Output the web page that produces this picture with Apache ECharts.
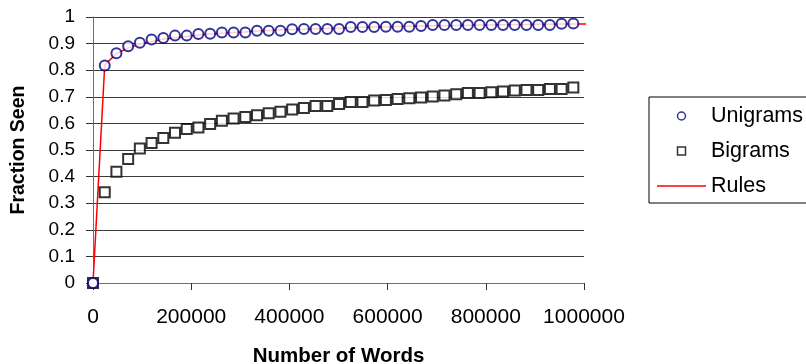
<!DOCTYPE html>
<html>
<head>
<meta charset="utf-8">
<script src="https://cdn.jsdelivr.net/npm/echarts@6/dist/echarts.min.js"></script>
<style>
  html, body { margin: 0; padding: 0; background: #fff; }
  #chart { width: 806px; height: 364px; }
</style>
</head>
<body>
<div id="chart"></div>
<script>
const wordCounts = [0, 23900, 47700, 71600, 95400, 119300, 143200, 167000, 190900, 214700,
  238600, 262500, 286300, 310200, 334000, 357900, 381800, 405600, 429500, 453300,
  477200, 501100, 524900, 548800, 572600, 596500, 620400, 644200, 668100, 691900,
  715800, 739700, 763500, 787400, 811200, 835100, 859000, 882800, 906700, 930500,
  954400, 978300];

const unigrams = [0, 0.818, 0.864, 0.890, 0.903, 0.915, 0.921, 0.930, 0.930, 0.936,
  0.937, 0.942, 0.942, 0.942, 0.948, 0.948, 0.948, 0.954, 0.955, 0.955,
  0.955, 0.955, 0.962, 0.962, 0.962, 0.963, 0.963, 0.963, 0.966, 0.970,
  0.970, 0.970, 0.970, 0.970, 0.970, 0.970, 0.970, 0.970, 0.970, 0.970,
  0.975, 0.976];

const bigrams = [0, 0.341, 0.418, 0.466, 0.506, 0.526, 0.545, 0.565, 0.579, 0.585,
  0.598, 0.610, 0.618, 0.624, 0.631, 0.638, 0.644, 0.652, 0.658, 0.665,
  0.665, 0.673, 0.680, 0.680, 0.686, 0.688, 0.692, 0.695, 0.697, 0.701,
  0.705, 0.710, 0.714, 0.714, 0.717, 0.720, 0.724, 0.726, 0.726, 0.729,
  0.729, 0.735];

// the fitted rule curve runs a little past the last sample
const rulesX = [0, 23900, 47700, 71600, 95400, 119300, 143200, 167000, 190900, 214700,
  238600, 262500, 286300, 310200, 334000, 357900, 381800, 405600, 429500, 453300,
  477200, 501100, 524900, 548800, 572600, 596500, 620400, 644200, 668100, 691900,
  715800, 739700, 763500, 787400, 811200, 835100, 859000, 882800, 906700, 930500,
  954400, 978300, 1005000];
const rulesY = [0, 0.820, 0.862, 0.884, 0.898, 0.908, 0.916, 0.922, 0.927, 0.932,
  0.936, 0.939, 0.942, 0.944, 0.947, 0.949, 0.951, 0.953, 0.954, 0.956,
  0.957, 0.958, 0.960, 0.961, 0.962, 0.963, 0.964, 0.965, 0.966, 0.967,
  0.967, 0.968, 0.969, 0.970, 0.970, 0.971, 0.972, 0.972, 0.973, 0.973,
  0.974, 0.974, 0.974];

const xTicks = { min: 0, max: 1000000, interval: 200000 };
const yTicks = { min: 0, max: 1, interval: 0.1 };

const FONT = "'Liberation Sans', Arial, sans-serif";
const NAVY = "#000080";

function pairs(xs, ys) {
  return xs.map((x, i) => [x, ys[i]]);
}

const chart = echarts.init(document.getElementById("chart"));

chart.setOption({
  animation: false,
  backgroundColor: "#fff",
  textStyle: { fontFamily: FONT, color: "#000" },
  // keep the plot box fixed, v6 would otherwise shrink it to fit the labels
  grid: { left: 93, right: 222, top: 17, bottom: 81, containLabel: false, outerBoundsMode: "none" },
  legend: {
    data: [
      { name: "Unigrams", icon: "circle",
        itemStyle: { color: "#fff", borderColor: NAVY, borderWidth: 1.5 } },
      { name: "Bigrams", icon: "path://M0,0 H8 V8 H0 Z",
        itemStyle: { color: "#fff", borderColor: "#000", borderWidth: 1.5 } },
      { name: "Rules", icon: "path://M0,0 H49 V1.5 H0 Z",
        itemStyle: { color: "#ff0000", borderWidth: 0 } },
    ],
    orient: "vertical",
    left: 649,
    top: 97,
    itemWidth: 49,
    itemHeight: 8,
    itemGap: 13,
    padding: [8, 30, 6, 8],
    borderColor: "#000",
    borderWidth: 1,
    textStyle: { fontFamily: FONT, fontSize: 21.5, color: "#000" },
  },
  xAxis: {
    type: "value",
    min: xTicks.min,
    max: xTicks.max,
    interval: xTicks.interval,
    name: "Number of Words",
    nameLocation: "middle",
    nameGap: 63,
    nameTextStyle: { fontFamily: FONT, fontSize: 20.5, fontWeight: "bold", color: "#000" },
    axisLine: { show: true, lineStyle: { color: "#6e6e6e", width: 1 } },
    axisTick: { show: true, length: 7, inside: false, lineStyle: { color: "#333" } },
    axisLabel: { fontFamily: FONT, fontSize: 21, color: "#000", margin: 24, formatter: (v) => String(v) },
    splitLine: { show: false },
  },
  yAxis: {
    type: "value",
    min: yTicks.min,
    max: yTicks.max,
    interval: yTicks.interval,
    name: "Fraction Seen",
    nameLocation: "middle",
    nameGap: 64,
    nameTextStyle: { fontFamily: FONT, fontSize: 19.5, fontWeight: "bold", color: "#000" },
    axisLine: { show: true, lineStyle: { color: "#6e6e6e", width: 1 } },
    axisTick: { show: true, length: 7, inside: false, lineStyle: { color: "#333" } },
    axisLabel: { fontFamily: FONT, fontSize: 19, color: "#000", margin: 18 },
    splitLine: { show: true, lineStyle: { color: "#3a3a3a", width: 1 } },
  },
  series: [
    {
      name: "Rules",
      type: "line",
      data: pairs(rulesX, rulesY),
      symbol: "none",
      clip: false,
      lineStyle: { color: "#ff0000", width: 1.5 },
      itemStyle: { color: "#ff0000" },
      z: 2,
    },
    {
      name: "Bigrams",
      type: "scatter",
      data: pairs(wordCounts, bigrams),
      symbol: "emptyRect",
      symbolSize: 10,
      itemStyle: { color: "#000", borderColor: "#000", borderWidth: 1.8 },
      z: 3,
    },
    {
      name: "Unigrams",
      type: "scatter",
      data: pairs(wordCounts, unigrams),
      symbol: "emptyCircle",
      symbolSize: 10,
      itemStyle: { color: NAVY, borderColor: NAVY, borderWidth: 1.5 },
      z: 4,
    },
  ],
});
</script>
</body>
</html>
